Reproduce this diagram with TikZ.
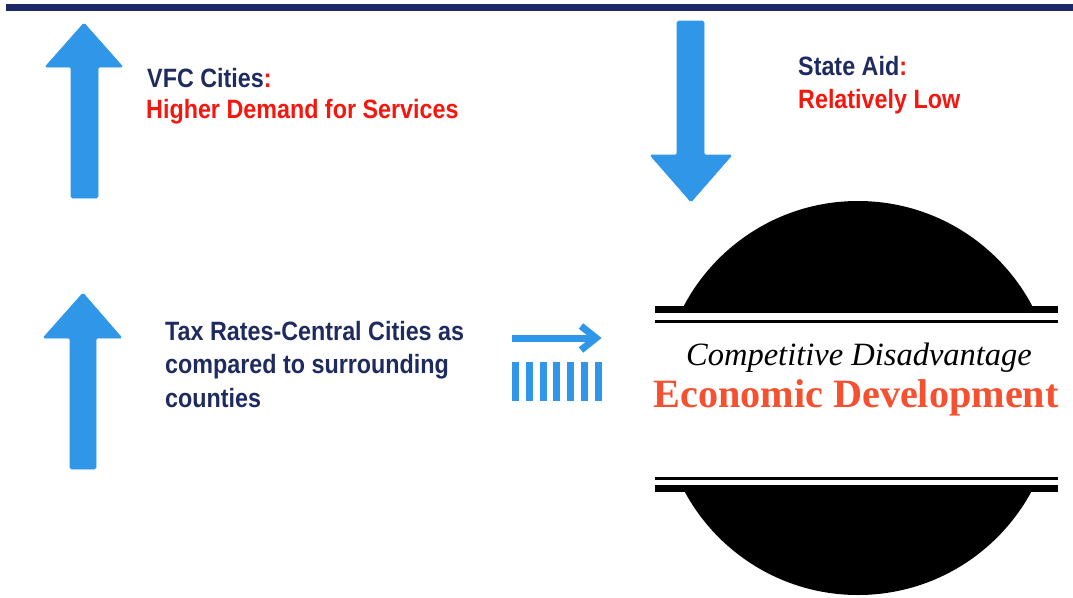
\documentclass[tikz,border=0pt]{standalone}
\usepackage{fontspec}
\setmainfont{Liberation Serif}
\newfontfamily\condbold{Liberation Sans}[FakeStretch=0.88]
\definecolor{arrowblue}{RGB}{48,150,232}
\definecolor{navy}{RGB}{31,43,94}
\definecolor{barnavy}{RGB}{28,41,102}
\definecolor{hotred}{RGB}{245,22,14}
\definecolor{ecored}{RGB}{245,80,48}
\tikzset{
  bluearrow/.style={fill=arrowblue, draw=arrowblue, line width=0.6pt, rounded corners=1.5pt},
  lbl/.style={anchor=base west, inner sep=0pt, font=\condbold\bfseries\fontsize{26.5}{32}\selectfont},
  blackband/.style={fill=black},
}
\begin{document}
\begin{tikzpicture}[x=1pt,y=-1pt]
\useasboundingbox (0,0) rectangle (1073,597);
% top bar
\fill[barnavy] (6,4) rectangle (1073,11);
% arrows
\draw[bluearrow] (84,23) -- (123,67) -- (98,67) -- (98,198) -- (71,198) -- (71,67) -- (45,67) -- cycle;
\draw[bluearrow] (83,293) -- (122,338) -- (96,338) -- (96,469) -- (70,469) -- (70,338) -- (43,338) -- cycle;
\draw[bluearrow] (677,21) -- (704,21) -- (704,155) -- (732,155) -- (691,202) -- (650,155) -- (677,155) -- cycle;
% small arrow and bars
\draw[arrowblue, line width=7pt] (512,338) -- (594,338);
\draw[arrowblue, line width=7pt, miter limit=10] (581,326) -- (596,338) -- (581,350);
\foreach \i in {0,...,6} {
  \fill[arrowblue] ({512+\i*13.8},362) rectangle ({519+\i*13.8},401);
}
% circle emblem
\begin{scope}
  \clip (600,150) rectangle (1073,308);
  \fill[blackband] (858,398) circle[radius=197];
\end{scope}
\fill[blackband] (655,306) rectangle (1058,313);
\fill[blackband] (655,320) rectangle (1058,323);
\fill[blackband] (655,477) rectangle (1058,480);
\fill[blackband] (655,485) rectangle (1058,492);
\begin{scope}
  \clip (600,488) rectangle (1073,600);
  \fill[blackband] (858,398) circle[radius=197];
\end{scope}
\node[anchor=base, inner sep=0pt, font=\itshape\fontsize{32.5}{36}\selectfont] (comp) at (859,365) {Competitive Disadvantage};
\node[anchor=base, inner sep=0pt, text=ecored, font=\bfseries\fontsize{40.2}{44}\selectfont] (eco) at (856,407) {Economic Development};
% labels
\node[lbl, text=navy] (vfc1) at (147,87) {VFC Cities\textcolor{hotred}{:}};
\node[lbl, text=hotred] (vfc2) at (146,118) {Higher Demand for Services};
\node[lbl, text=navy] (aid1) at (798,75) {State Aid\textcolor{hotred}{:}};
\node[lbl, text=hotred] (aid2) at (798,108) {Relatively Low};
\node[lbl, text=navy] (tax1) at (165,340) {Tax Rates-Central Cities as};
\node[lbl, text=navy] (tax2) at (165,373) {compared to surrounding};
\node[lbl, text=navy] (tax3) at (165,407) {counties};
\end{tikzpicture}
\end{document}
